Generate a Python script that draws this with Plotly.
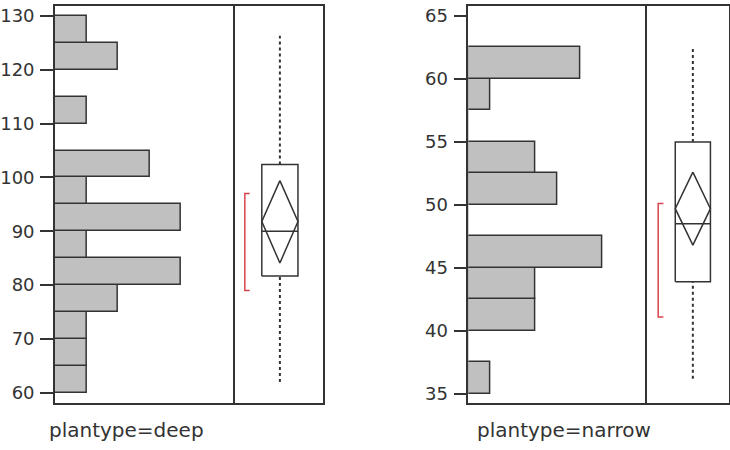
import plotly.graph_objects as go

# ---------------- data ----------------
deep_bin_lo = [60, 65, 70, 75, 80, 85, 90, 95, 100, 105, 110, 115, 120, 125]
deep_counts = [1, 1, 1, 2, 4, 1, 4, 1, 3, 0, 1, 0, 2, 1]
deep_bin_w = 5
deep_ticks = [60, 70, 80, 90, 100, 110, 120, 130]
# min, q1, median, q3, max
deep_five = [62.0, 81.7, 90.0, 102.4, 126.3]
deep_mean = 91.8
deep_ci = [84.1, 99.4]
deep_short_half = [79.0, 97.0]

narrow_bin_lo = [35, 37.5, 40, 42.5, 45, 47.5, 50, 52.5, 55, 57.5, 60]
narrow_counts = [1, 0, 3, 3, 6, 0, 4, 3, 0, 1, 5]
narrow_bin_w = 2.5
narrow_ticks = [35, 40, 45, 50, 55, 60, 65]
narrow_five = [36.2, 43.9, 48.5, 55.0, 62.6]
narrow_mean = 49.7
narrow_ci = [46.8, 52.6]
narrow_short_half = [41.1, 50.1]

labels = ["plantype=deep", "plantype=narrow"]

# ---------------- layout constants ----------------
W, H = 730, 450
DARK = "#333333"
FILL = "#c0c0c0"
RED = "#d9434a"
FONT = "DejaVu Sans, Arial, sans-serif"

fig = go.Figure()

def px(x):
    return x / W

y_dom = [(H - 403.5) / H, (H - 5) / H]

panels = [
    dict(bins=deep_bin_lo, counts=deep_counts, bw=deep_bin_w, ticks=deep_ticks,
         five=deep_five, mean=deep_mean, ci=deep_ci, sh=deep_short_half,
         yr=[58.15, 131.85], xr=[0, 5.7],
         hist_dom=[px(55), px(235)], box_dom=[px(235), px(323.5)],
         box_x=[0.307, 0.716], br_x=[0.115, 0.17], lab_x=126.5, lab_y=431),
    dict(bins=narrow_bin_lo, counts=narrow_counts, bw=narrow_bin_w, ticks=narrow_ticks,
         five=narrow_five, mean=narrow_mean, ci=narrow_ci, sh=narrow_short_half,
         yr=[34.29, 65.79], xr=[0, 8.0],
         hist_dom=[px(469), px(648)], box_dom=[px(648), px(729.5)],
         box_x=[0.346, 0.778], br_x=[0.136, 0.2], lab_x=565, lab_y=431),
]

layout = dict(
    width=W, height=H, margin=dict(l=0, r=0, t=0, b=0),
    paper_bgcolor="white", plot_bgcolor="white", showlegend=False,
    bargap=0, font=dict(family=FONT, size=18, color=DARK),
)

annotations = []
for i, p in enumerate(panels):
    hx = 2 * i + 1
    bx = 2 * i + 2
    hxs = "" if hx == 1 else str(hx)
    bxs = str(bx)
    hys = hxs
    bys = bxs

    # histogram
    centers = [b + p["bw"] / 2 for b in p["bins"]]
    fig.add_trace(go.Bar(
        x=p["counts"], y=centers, width=[p["bw"]] * len(centers), orientation="h",
        marker=dict(color=FILL, line=dict(color=DARK, width=1.5)),
        xaxis="x" + hxs, yaxis="y" + hys, hoverinfo="skip"))

    # box plot pieces
    mn, q1, med, q3, mx = p["five"]
    x0, x1 = p["box_x"]
    xc = (x0 + x1) / 2
    line = dict(color=DARK, width=1.5)
    ax = dict(xaxis="x" + bxs, yaxis="y" + bys, mode="lines", hoverinfo="skip")
    fig.add_trace(go.Scatter(x=[xc, xc], y=[q3, mx], line=dict(color=DARK, width=2, dash="dot"), **ax))
    fig.add_trace(go.Scatter(x=[xc, xc], y=[mn, q1], line=dict(color=DARK, width=2, dash="dot"), **ax))
    fig.add_trace(go.Scatter(x=[x0, x1, x1, x0, x0], y=[q1, q1, q3, q3, q1], line=line, **ax))
    fig.add_trace(go.Scatter(x=[x0, x1], y=[med, med], line=line, **ax))
    lo, hi = p["ci"]
    fig.add_trace(go.Scatter(x=[xc, x1, xc, x0, xc], y=[hi, p["mean"], lo, p["mean"], hi], line=line, **ax))
    b0, b1 = p["br_x"]
    s0, s1 = p["sh"]
    fig.add_trace(go.Scatter(x=[b1, b0, b0, b1], y=[s1, s1, s0, s0], line=dict(color=RED, width=1.5), **ax))

    common = dict(showgrid=False, zeroline=False, showline=True, linecolor=DARK, linewidth=1.5)
    layout["xaxis" + hxs] = dict(domain=p["hist_dom"], range=p["xr"], anchor="y" + hys,
                                 showticklabels=False, ticks="", mirror=True, **common)
    layout["yaxis" + hys] = dict(domain=y_dom, range=p["yr"], anchor="x" + hxs,
                                 tickvals=p["ticks"], ticks="outside", ticklen=13, tickwidth=1.5,
                                 tickcolor=DARK, tickfont=dict(size=18, color=DARK, family=FONT),
                                 ticklabelstandoff=2, mirror=False, **common)
    layout["xaxis" + bxs] = dict(domain=p["box_dom"], range=[0, 1], anchor="y" + bys,
                                 showticklabels=False, ticks="", mirror=True, **common)
    layout["yaxis" + bys] = dict(domain=y_dom, range=p["yr"], anchor="x" + bxs,
                                 showticklabels=False, ticks="", mirror=True, **common)

    annotations.append(dict(text=labels[i], xref="paper", yref="paper",
                            x=p["lab_x"] / W, y=(H - p["lab_y"]) / H,
                            xanchor="center", yanchor="middle", showarrow=False,
                            font=dict(size=20, color=DARK, family=FONT)))

layout["annotations"] = annotations
fig.update_layout(**layout)
fig.write_html("out.html")
